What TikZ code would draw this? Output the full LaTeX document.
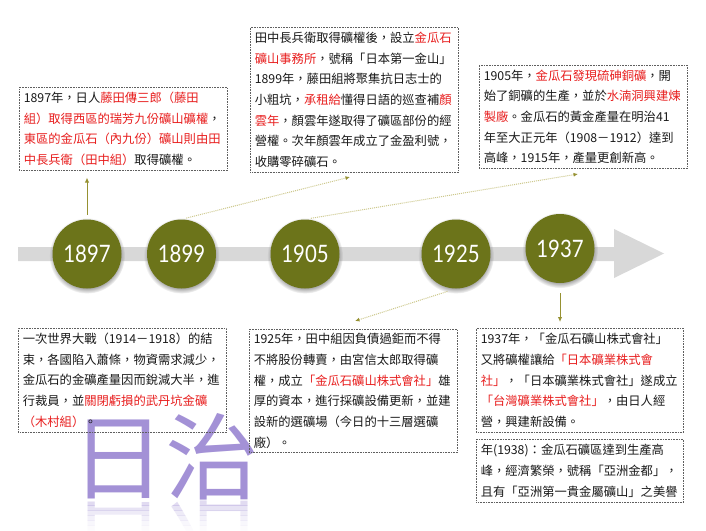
\documentclass[tikz,border=0pt]{standalone}
\usepackage{fontspec}
\usepackage{graphicx}
\newfontfamily\cjk{Noto Sans CJK TC}
\newfontfamily\yearfont[FakeStretch=0.85]{Lato}
\usetikzlibrary{arrows.meta,calc,shadows}
\definecolor{circOlive}{RGB}{108,116,26}
\definecolor{connOlive}{RGB}{150,145,50}
\definecolor{connLight}{RGB}{205,200,140}
\definecolor{barGray}{RGB}{216,216,216}
\definecolor{boxGray}{RGB}{95,95,95}
\definecolor{txtBlack}{RGB}{25,25,25}
\definecolor{txtRed}{RGB}{232,30,30}
\definecolor{bigPurple}{RGB}{163,145,214}
\newcommand\rd[1]{\textcolor{txtRed}{#1}}
\begin{document}
\begin{tikzpicture}[x=1pt,y=-1pt,
  txtbox/.style={draw=boxGray, dash pattern=on 0.8pt off 0.8pt, line width=0.6pt,
    anchor=north west, inner xsep=4.5pt, inner ysep=0pt, text width=199pt,
    align=left, font=\cjk\fontsize{12.3}{20.7}\selectfont, text=txtBlack},
  year/.style={circle, minimum size=69pt, inner sep=0pt, fill=circOlive, text=white,
    font=\yearfont\fontsize{24}{24}\selectfont,
    circular drop shadow={shadow xshift=0pt, shadow yshift=-1.5pt, shadow scale=1.1, opacity=0.7}},
  solidconn/.style={draw=connOlive, line width=1pt, -{Latex[length=5pt,width=4.5pt]}},
  dotconn/.style={draw=connLight, line width=1pt, dash pattern=on 1pt off 1pt,
    -{Latex[length=4.5pt,width=4pt,color=connOlive]}},
  bigtxt/.style={text=bigPurple, font=\cjk\fontsize{94}{94}\selectfont, inner sep=0pt, anchor=base west}
]
\useasboundingbox (0,0) rectangle (706,530);
\fill[white] (0,0) rectangle (706,530);

% timeline arrow
\fill[barGray] (18,247) -- (614,247) -- (614,229) -- (664,253.5) -- (614,278) -- (614,261) -- (18,261) -- cycle;

% big text and reflection
\node[bigtxt] (rz) at (71,492) {日治};
\foreach \i/\o in {0/0.32,1/0.25,2/0.18,3/0.12,4/0.07,5/0.03}{
  \begin{scope}
    \clip (50,{500+5*\i}) rectangle (270,{505+5*\i});
    \node[bigtxt, opacity=\o] (rz\i) at (71,508) {\scalebox{1}[-1]{日治}};
  \end{scope}
}

% year circles
\node[year] (c1897) at (87,254) {1897};
\node[year] (c1899) at (181.5,254) {1899};
\node[year] (c1905) at (305,254) {1905};
\node[year] (c1925) at (456,254) {1925};
\node[year] (c1937) at (560,248.5) {1937};

% text boxes
\node[txtbox, minimum height=83pt] (b1) at (19,87) {%
1897年，日人\rd{藤田傳三郎（藤田}\\
\rd{組）取得西區的瑞芳九份礦山礦權}，\\
\rd{東區的金瓜石（內九份）礦山則由田}\\
\rd{中長兵衛（田中組）}取得礦權。};

\node[txtbox, minimum height=145pt] (b2) at (250,27) {%
田中長兵衛取得礦權後，設立\rd{金瓜石}\\
\rd{礦山事務所}，號稱「日本第一金山」\\
1899年，藤田組將聚集抗日志士的\\
小粗坑，\rd{承租給}懂得日語的巡查補\rd{顏}\\
\rd{雲年}，顏雲年遂取得了礦區部份的經\\
營權。次年顏雲年成立了金盈利號，\\
收購零碎礦石。};

\node[txtbox, minimum height=103pt] (b3) at (479,65) {%
1905年，\rd{金瓜石發現硫砷銅礦}，開\\
始了銅礦的生產，並於\rd{水湳洞興建煉}\\
\rd{製廠}。金瓜石的黃金產量在明治41\\
年至大正元年（1908－1912）達到\\
高峰，1915年，產量更創新高。};

\node[txtbox, minimum height=104pt] (b4) at (18,328) {%
一次世界大戰（1914－1918）的結\\
束，各國陷入蕭條，物資需求減少，\\
金瓜石的金礦產量因而銳減大半，進\\
行裁員，並\rd{關閉虧損的武丹坑金礦}\\
\rd{（木村組）}。};

\node[txtbox, minimum height=123pt] (b5) at (249,329) {%
1925年，田中組因負債過鉅而不得\\
不將股份轉賣，由宮信太郎取得礦\\
權，成立\rd{「金瓜石礦山株式會社」}雄\\
厚的資本，進行採礦設備更新，並建\\
設新的選礦場（今日的十三層選礦\\
廠）。};

\node[txtbox, minimum height=104pt, text width=198pt] (b6) at (476,328) {%
1937年，「金瓜石礦山株式會社」\\
又將礦權讓給\rd{「日本礦業株式會}\\
\rd{社」}，「日本礦業株式會社」遂成立\\
\rd{「台灣礦業株式會社」}，由日人經\\
營，興建新設備。};

\node[txtbox, minimum height=63pt, text width=198pt] (b7) at (476,439) {%
年(1938)：金瓜石礦區達到生產高\\
峰，經濟繁榮，號稱「亞洲金都」，\\
且有「亞洲第一貴金屬礦山」之美譽};

% connectors
\coordinate (t1899) at (350,177);
\coordinate (t1905) at (578,174);
\coordinate (t1925) at (355,321);
\draw[solidconn, shorten <=4.5pt, shorten >=7pt] (c1897.north) -- (c1897.north |- b1.south);
\draw[dotconn, shorten <=5pt] (c1899.north) -- (t1899);
\draw[dotconn, shorten <=6pt] (c1905.north) -- (t1905);
\draw[dotconn, shorten <=9pt] (c1925.south) -- (t1925);
\draw[solidconn, shorten <=10pt, shorten >=6pt] (c1937.south) -- (c1937.south |- b6.north);
\end{tikzpicture}
\end{document}
